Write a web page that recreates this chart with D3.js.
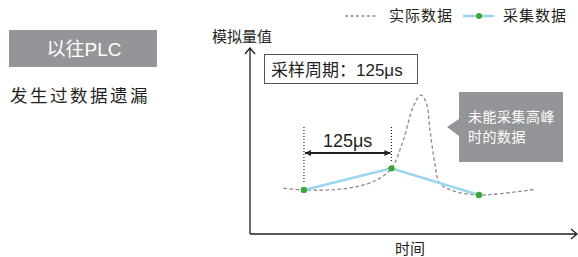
<!DOCTYPE html>
<html>
<head>
<meta charset="utf-8">
<script src="https://cdn.jsdelivr.net/npm/d3@7"></script>
<style>
  body { margin: 0; background: #fff; }
  svg { display: block; font-family: "Liberation Sans", "Noto Sans CJK SC", sans-serif; }
</style>
</head>
<body>
<svg id="chart" width="578" height="257"></svg>
<script>
'use strict';

var actualT = [96, 125, 162, 200, 229, 250, 267, 281, 292, 300, 305, 312, 319, 343, 375, 400, 455];
var actualV = [24.6, 23.7, 23.7, 25.4, 29, 35.3, 50.5, 68.4, 74.7, 70.3, 55.9, 38, 27.3, 22.7, 21, 21.5, 24];
// samples taken every 125us
var sampleT = [125, 250, 375];
var sampleV = [23.7, 35.3, 21];
var period = 125;

var legendLabels = ["实际数据", "采集数据"];

var svg = d3.select("#chart");
var x = d3.scaleLinear().domain([48, 515]).range([250, 577]);
var y = d3.scaleLinear().domain([0, 100]).range([234, 48]);

var gray = "#939598";
var dark = "#231f20";

// left label
svg.append("rect").attr("x", 9).attr("y", 30).attr("width", 148).attr("height", 37).attr("fill", gray);
svg.append("text").attr("x", 84).attr("y", 56).attr("text-anchor", "middle")
  .attr("fill", "#fff").style("font-size", "19px").text("以往PLC");
svg.append("text").attr("x", 10).attr("y", 102)
  .attr("fill", dark).style("font-size", "17.5px").style("letter-spacing", "2.5px").text("发生过数据遗漏");

// legend
svg.append("line").attr("x1", 345).attr("x2", 376).attr("y1", 16).attr("y2", 16)
  .attr("stroke", "#8a8a8a").attr("stroke-width", 1.3).attr("stroke-dasharray", "3,2.5");
svg.append("text").attr("x", 389).attr("y", 21).attr("fill", dark)
  .style("font-size", "15px").style("letter-spacing", "1px").text(legendLabels[0]);
svg.append("line").attr("x1", 463).attr("x2", 494).attr("y1", 16).attr("y2", 16)
  .attr("stroke", "#9ad6f0").attr("stroke-width", 2.5);
svg.append("circle").attr("cx", 479).attr("cy", 16).attr("r", 3).attr("fill", "#3aaa35");
svg.append("text").attr("x", 503).attr("y", 21).attr("fill", dark)
  .style("font-size", "15px").style("letter-spacing", "1px").text(legendLabels[1]);

// axes with open arrow heads
var x0 = x.range()[0], yb = y(0);
svg.append("path")
  .attr("d", "M" + x0 + "," + yb + "V" + y(100) + "M" + (x0 - 5) + "," + (y(100) + 6) + "L" + x0 + "," + y(100) + "L" + (x0 + 5) + "," + (y(100) + 6))
  .attr("fill", "none").attr("stroke", dark).attr("stroke-width", 1.3);
svg.append("path")
  .attr("d", "M" + x0 + "," + yb + "H" + x.range()[1] + "M" + (x.range()[1] - 6) + "," + (yb - 5) + "L" + x.range()[1] + "," + yb + "L" + (x.range()[1] - 6) + "," + (yb + 5))
  .attr("fill", "none").attr("stroke", dark).attr("stroke-width", 1.3);
svg.append("text").attr("x", 212).attr("y", 42).attr("fill", dark).style("font-size", "15px").text("模拟量值");
svg.append("text").attr("x", 410).attr("y", 254).attr("text-anchor", "middle").attr("fill", dark).style("font-size", "15px").text("时间");

// sampling period box
svg.append("rect").attr("x", 264.5).attr("y", 54.5).attr("width", 153).attr("height", 29)
  .attr("fill", "#fff").attr("stroke", "#555").attr("stroke-width", 1);
svg.append("text").attr("x", 271).attr("y", 76).attr("fill", dark).style("font-size", "17px").text("采样周期：" + period + "μs");

// callout
svg.append("path").attr("d", "M459,92H563V162H459V136L447,127L459,119Z").attr("fill", gray);
svg.append("text").attr("x", 468).attr("y", 122).attr("fill", "#fff").style("font-size", "14px").style("letter-spacing", "0.5px").text("未能采集高峰");
svg.append("text").attr("x", 468).attr("y", 142).attr("fill", "#fff").style("font-size", "14px").style("letter-spacing", "0.5px").text("时的数据");

// period dimension
var dimY = 153;
sampleT.slice(0, 2).forEach(function (t, i) {
  svg.append("line").attr("x1", x(t)).attr("x2", x(t)).attr("y1", 127).attr("y2", y(sampleV[i]) - 6)
    .attr("stroke", dark).attr("stroke-width", 1.2).attr("stroke-dasharray", "1,2");
});
svg.append("defs").append("marker").attr("id", "ah").attr("viewBox", "0 0 10 10")
  .attr("refX", 10).attr("refY", 5).attr("markerWidth", 6).attr("markerHeight", 6)
  .attr("markerUnits", "userSpaceOnUse").attr("orient", "auto-start-reverse")
  .append("path").attr("d", "M0,0L10,5L0,10Z").attr("fill", dark);
svg.append("line").attr("x1", x(sampleT[0]) + 1).attr("x2", x(sampleT[1]) - 1).attr("y1", dimY).attr("y2", dimY)
  .attr("stroke", dark).attr("stroke-width", 2)
  .attr("marker-start", "url(#ah)").attr("marker-end", "url(#ah)");
svg.append("text").attr("x", (x(sampleT[0]) + x(sampleT[1])) / 2).attr("y", 147).attr("text-anchor", "middle")
  .attr("fill", dark).style("font-size", "18px").text(period + "μs");

// actual signal
var actual = d3.zip(actualT, actualV);
svg.append("path").datum(actual)
  .attr("d", d3.line().x(function (d) { return x(d[0]); }).y(function (d) { return y(d[1]); }).curve(d3.curveCatmullRom))
  .attr("fill", "none").attr("stroke", "#8a8a8a").attr("stroke-width", 1.3).attr("stroke-dasharray", "3.5,2.5");

// sampled signal
var samples = d3.zip(sampleT, sampleV);
svg.append("path").datum(samples)
  .attr("d", d3.line().x(function (d) { return x(d[0]); }).y(function (d) { return y(d[1]); }))
  .attr("fill", "none").attr("stroke", "#9ad6f0").attr("stroke-width", 2.5);
svg.selectAll(".pt").data(samples).enter().append("circle").attr("class", "pt")
  .attr("cx", function (d) { return x(d[0]); }).attr("cy", function (d) { return y(d[1]); })
  .attr("r", 3.2).attr("fill", "#3aaa35");
</script>
</body>
</html>
